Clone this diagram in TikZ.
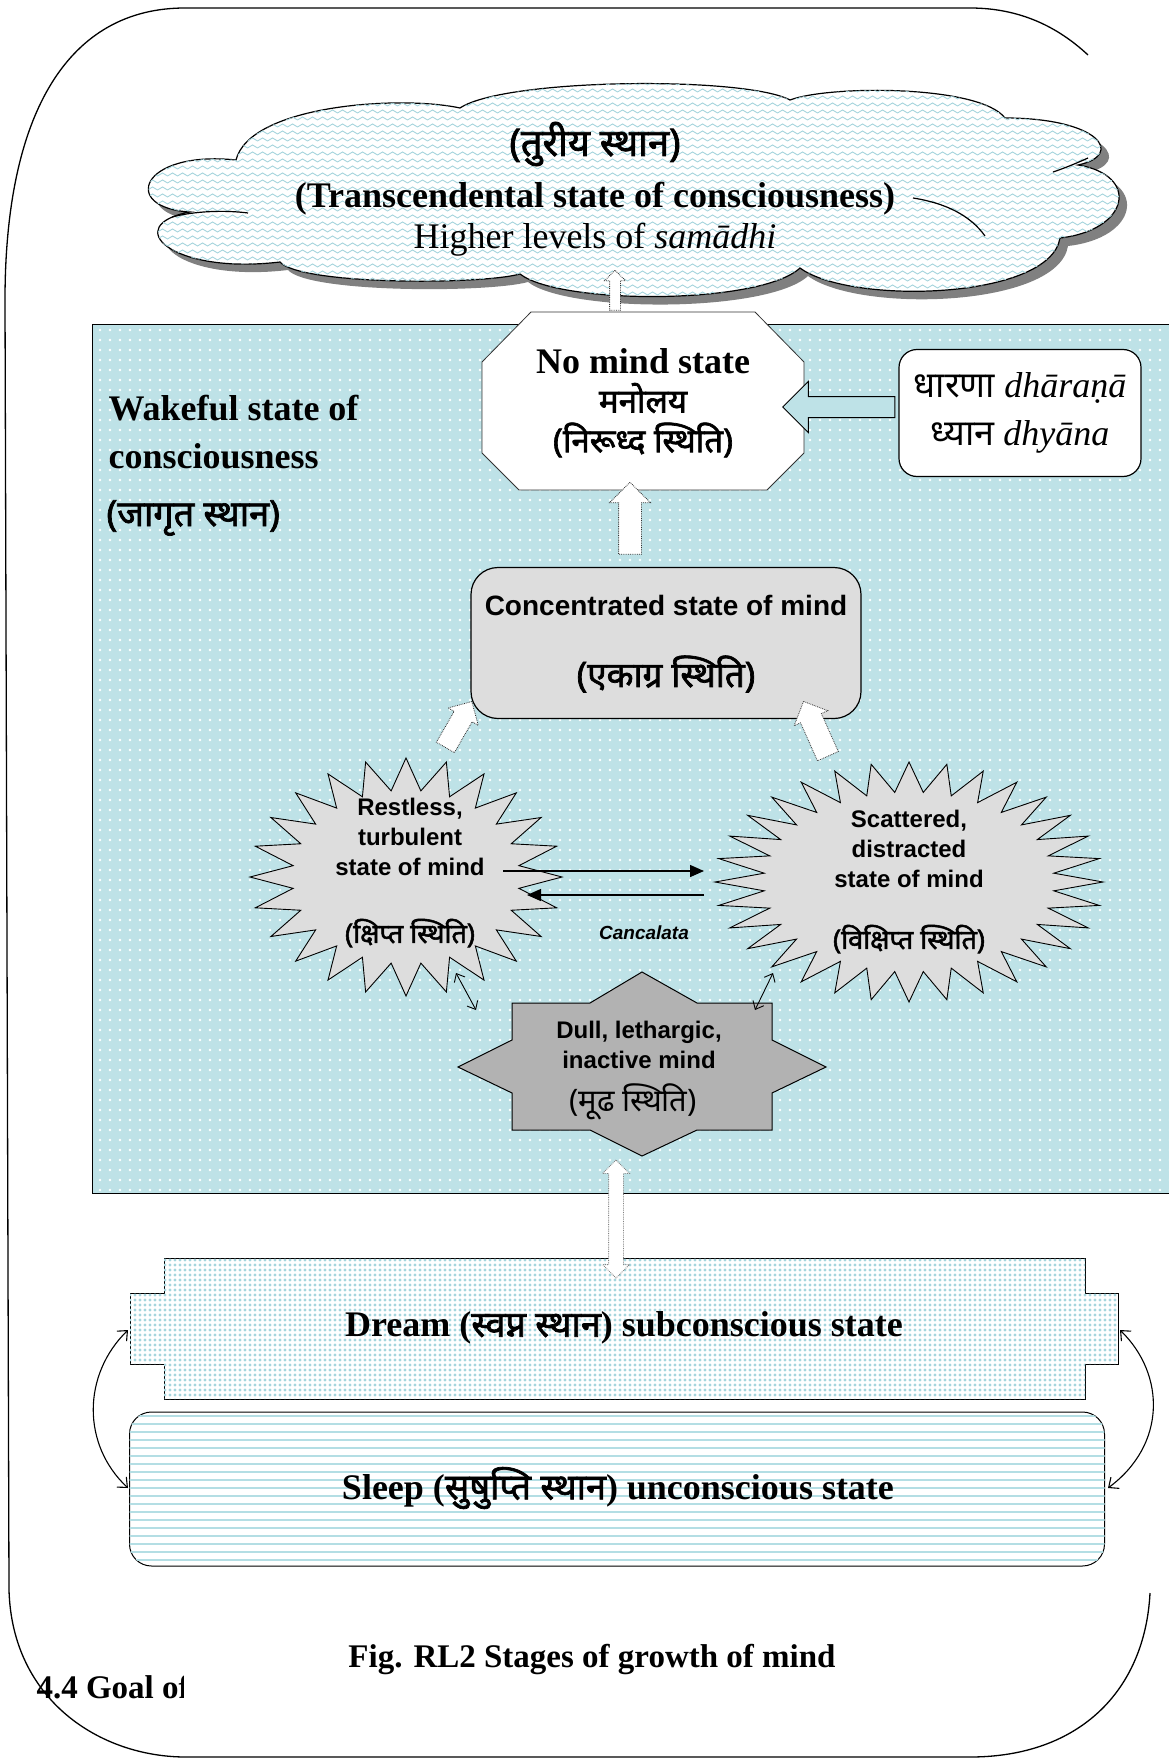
\documentclass[tikz,border=0pt]{standalone}
\usepackage{fontspec}
\setmainfont{Liberation Serif}
\setsansfont{Liberation Sans}
\newfontfamily\deva[Script=Devanagari]{Noto Sans}
\newfontfamily\devab[Script=Devanagari,FakeBold=2]{Noto Sans}
\usetikzlibrary{arrows.meta,patterns,patterns.meta,shapes.arrows}

\definecolor{wakeblue}{RGB}{190,226,231}
\definecolor{patblue}{RGB}{166,213,221}
\definecolor{stripeblue}{RGB}{180,222,228}
\definecolor{boxgrey}{RGB}{221,221,221}
\definecolor{dullgrey}{RGB}{178,178,178}

% wavy fill of the cloud
\pgfdeclarepatternformonly{waves}{\pgfqpoint{-1pt}{-1pt}}{\pgfqpoint{11pt}{8pt}}{\pgfqpoint{10pt}{7pt}}{%
  \pgfsetlinewidth{0.9pt}%
  \pgfpathmoveto{\pgfqpoint{0pt}{3.5pt}}%
  \pgfpathcurveto{\pgfqpoint{1.7pt}{5.5pt}}{\pgfqpoint{3.3pt}{5.5pt}}{\pgfqpoint{5pt}{3.5pt}}%
  \pgfpathcurveto{\pgfqpoint{6.7pt}{1.5pt}}{\pgfqpoint{8.3pt}{1.5pt}}{\pgfqpoint{10pt}{3.5pt}}%
  \pgfusepath{stroke}}

% outline of the turiya cloud
\newcommand{\turiyapath}{(190,212) .. controls (120,208) and (140,150) .. (236,160)
  .. controls (250,105) and (400,95) .. (460,108)
  .. controls (505,78) and (745,76) .. (790,100)
  .. controls (830,85) and (980,85) .. (1005,118)
  .. controls (1100,118) and (1125,155) .. (1078,165)
  .. controls (1140,175) and (1130,230) .. (1060,238)
  .. controls (1050,300) and (850,305) .. (800,268)
  .. controls (760,305) and (560,305) .. (520,274)
  .. controls (480,285) and (300,285) .. (280,262)
  .. controls (170,275) and (120,225) .. (190,212) -- cycle}

\begin{document}
\begin{tikzpicture}[x=1pt,y=-1pt,
  bigserif/.style={font=\bfseries\fontsize{36}{42}\selectfont},
  plainserif/.style={font=\fontsize{36}{42}\selectfont},
  sanslabel/.style={font=\sffamily\bfseries\fontsize{24}{30}\selectfont, align=center},
  devabig/.style={font=\devab\fontsize{36}{42}\selectfont},
  devaplain/.style={font=\deva\fontsize{34}{40}\selectfont},
  devamid/.style={font=\devab\fontsize{27}{32}\selectfont},
  starburst/.style={draw, line width=0.9pt, fill=boxgrey},
  dottedblock/.style={draw=black!80, densely dotted, line width=0.8pt, fill=white, inner xsep=0pt},
  cancalata/.style={line width=1.4pt, -{Triangle[length=14pt,width=12pt]}},
  linkarrow/.style={line width=0.9pt, {Straight Barb[length=7pt,width=12pt]}-{Straight Barb[length=7pt,width=12pt]}},
  cyclearrow/.style={line width=1.1pt, {Straight Barb[length=8pt,width=14pt]}-{Straight Barb[length=8pt,width=14pt]}}]
\useasboundingbox (0,0) rectangle (1168,1760);

% outer frame
\draw[line width=1.3pt] (1088,55) .. controls (1058,27) and (1020,8) .. (970,8) -- (185,8)
  .. controls (70,8) and (5,110) .. (5,300) -- (9,1590)
  .. controls (12,1700) and (100,1757) .. (186,1757) -- (970,1757)
  .. controls (1080,1757) and (1145,1690) .. (1150,1593);

% wakeful region
\fill[wakeblue] (92,324) rectangle (1180,1193);
\fill[pattern={Dots[distance=10pt,radius=1.4pt]}, pattern color=white] (92,324) rectangle (1180,1193);
\draw[line width=1pt] (1180,324) -- (92,324) -- (92,1193) -- (1180,1193);
\node[bigserif, anchor=west] (wakeA) at (105,408) {Wakeful state of};
\node[bigserif, anchor=west] (wakeB) at (105,456) {consciousness};
\node[devabig, anchor=west] (wakeC) at (103,518) {(जागृत स्थान)};

% turiya cloud
\fill[black!50, shift={(8,8)}] \turiyapath;
\draw[line width=1.2pt, fill=white, postaction={pattern=waves, pattern color=patblue}] \turiyapath;
\draw[line width=1.2pt] (172,217) .. controls (195,211) and (225,210) .. (248,213);
\draw[line width=1.2pt] (913,198) .. controls (945,203) and (970,215) .. (985,236);
\draw[line width=1.2pt] (1053,172) .. controls (1065,168) and (1077,163) .. (1088,158);
\node[devabig, font=\devab\fontsize{38}{44}\selectfont] (turiyadeva) at (595,144) {(तुरीय स्थान)};
\node[bigserif] (turiyaname) at (595,199) {(Transcendental state of consciousness)};
\node[plainserif] (samadhi) at (595,240) {Higher levels of \textit{samādhi}};

% no mind state
\draw[fill=white, draw=black!80, line width=0.8pt] (531,312) -- (755,312) -- (804,362) -- (804,453)
  -- (767,490) -- (519,490) -- (482,453) -- (482,362) -- cycle;
\node[bigserif] (nomind) at (643,361) {No mind state};
\node[devabig, font=\devab\fontsize{33}{40}\selectfont] (manolaya) at (643,398) {मनोलय};
\node[devabig, font=\devab\fontsize{33}{40}\selectfont] (niruddha) at (643,440) {(निरूध्द स्थिति)};
\node[dottedblock, single arrow, single arrow head extend=5pt, inner ysep=5pt, minimum height=40pt, rotate=90] (upturiya) at (615,293) {};

% dharana dhyana
\node[draw, fill=white, rounded corners=18pt, line width=1.2pt, minimum width=242pt, minimum height=127pt,
      align=center, font=\fontsize{36}{48}\selectfont] (dharana) at (1020,413)
      {{\deva धारणा} \textit{dhāraṇā}\\{\deva ध्यान} \textit{dhyāna}};
\node[single arrow, draw, line width=1pt, fill=wakeblue, single arrow head extend=15pt, inner xsep=0pt, inner ysep=10pt,
      minimum height=112pt, rotate=180] (leftdharana) at (844,407) {};

% concentrated
\node[draw, fill=boxgrey, rounded corners=27pt, line width=1.2pt, minimum width=390pt, minimum height=151pt] (concentrated) at (666,643) {};
\node[font=\sffamily\bfseries\fontsize{28}{34}\selectfont] (concname) at (666,605) {Concentrated state of mind};
\node[devaplain, font=\devab\fontsize{35}{40}\selectfont] (ekagra) at (666,674) {(एकाग्र स्थिति)};
\node[dottedblock, single arrow, single arrow head extend=9pt, inner ysep=11pt, minimum height=72pt, rotate=90] (upnomind) at (630,524) {};

% restless
\begin{scope}[shift={(406,877)}]
\draw[starburst] (90:156 and 119) \foreach \k in {1,...,47} { -- ({90+\k*7.5}:{156*(1-0.27*mod(\k,2))} and {119*(1-0.27*mod(\k,2))}) } -- cycle;
\end{scope}
\node[sanslabel] (restless) at (410,837) {Restless,\\turbulent\\state of mind};
\node[devamid] (kshipta) at (410,933) {(क्षिप्त स्थिति)};
\node[dottedblock, single arrow, single arrow head extend=7pt, inner ysep=10pt, minimum height=53pt, rotate=60] (upleft) at (456,729) {};

% scattered
\begin{scope}[shift={(909,882)}]
\draw[starburst] (90:194 and 120) \foreach \k in {1,...,63} { -- ({90+\k*5.625}:{194*(1-0.25*mod(\k,2))} and {120*(1-0.25*mod(\k,2))}) } -- cycle;
\end{scope}
\node[sanslabel] (scattered) at (909,849) {Scattered,\\distracted\\state of mind};
\node[devamid] (vikshipta) at (909,939) {(विक्षिप्त स्थिति)};
\node[dottedblock, single arrow, single arrow head extend=7pt, inner ysep=11pt, minimum height=60pt, rotate=114] (upright) at (818,734) {};

% cancalata
\coordinate (restlessOut) at (503,871);
\coordinate (scatteredIn) at (704,871);
\coordinate (scatteredOut) at (704,895);
\coordinate (restlessIn) at (527,895);
\draw[cancalata] (restlessOut) -- (scatteredIn);
\draw[cancalata] (scatteredOut) -- (restlessIn);
\node[font=\sffamily\bfseries\itshape\fontsize{19}{23}\selectfont] (cancalata) at (644,933) {Cancalata};

% dull
\draw[fill=dullgrey, line width=1pt] (512,1003) -- (590,1003) -- (642,972) -- (697,1003) -- (772,1003) -- (772,1040)
  -- (826,1067) -- (772,1093) -- (772,1130) -- (697,1130) -- (642,1156) -- (590,1130) -- (512,1130)
  -- (512,1093) -- (458,1067) -- (512,1040) -- cycle;
\node[sanslabel] (dull) at (639,1045) {Dull, lethargic,\\inactive mind};
\node[devaplain, font=\deva\fontsize{31}{36}\selectfont] (mudha) at (633,1102) {(मूढ स्थिति)};
\coordinate (restlessFoot) at (456,973);
\coordinate (dullLeft) at (476,1010);
\coordinate (scatteredFoot) at (773,973);
\coordinate (dullRight) at (755,1010);
\draw[linkarrow] (restlessFoot) -- (dullLeft);
\draw[linkarrow] (scatteredFoot) -- (dullRight);

% dream
\draw[fill=white, line width=1pt, postaction={pattern={Dots[distance=5pt,radius=1.7pt]}, pattern color=patblue}]
  (164,1258) -- (1085,1258) -- (1085,1293) -- (1118,1293) -- (1118,1364) -- (1085,1364) -- (1085,1399)
  -- (164,1399) -- (164,1364) -- (130,1364) -- (130,1293) -- (164,1293) -- cycle;
\node[bigserif] (dream) at (624,1328) {Dream ({\devab स्वप्न स्थान}) subconscious state};
\node[dottedblock, draw=black!50, double arrow, double arrow head extend=6pt, inner ysep=7pt, minimum height=118pt, rotate=90] (dullDream) at (616,1219) {};

% sleep
\node[draw, fill=white, postaction={pattern={Lines[distance=8pt,line width=2.6pt]}, pattern color=stripeblue},
      rounded corners=22pt, line width=1pt, minimum width=975pt, minimum height=154pt] (sleep) at (617,1489) {};
\node[bigserif] (sleepname) at (618,1488) {Sleep ({\devab सुषुप्ति स्थान}) unconscious state};
\coordinate (dreamLeft) at (128,1330);
\coordinate (sleepLeft) at (128,1488);
\coordinate (dreamRight) at (1120,1330);
\coordinate (sleepRight) at (1108,1488);
\draw[cyclearrow] (dreamLeft) .. controls (82,1375) and (82,1445) .. (sleepLeft);
\draw[cyclearrow] (dreamRight) .. controls (1166,1375) and (1166,1445) .. (sleepRight);

% caption
\node[font=\bfseries\fontsize{33}{40}\selectfont] (caption) at (592,1660) {Fig. RL2 Stages of growth of mind};
\begin{scope}
\clip (25,1655) rectangle (183,1720);
\node[font=\bfseries\fontsize{33}{40}\selectfont, anchor=west] (goal) at (33,1687) {4.4 Goal of};
\end{scope}
\end{tikzpicture}
\end{document}
